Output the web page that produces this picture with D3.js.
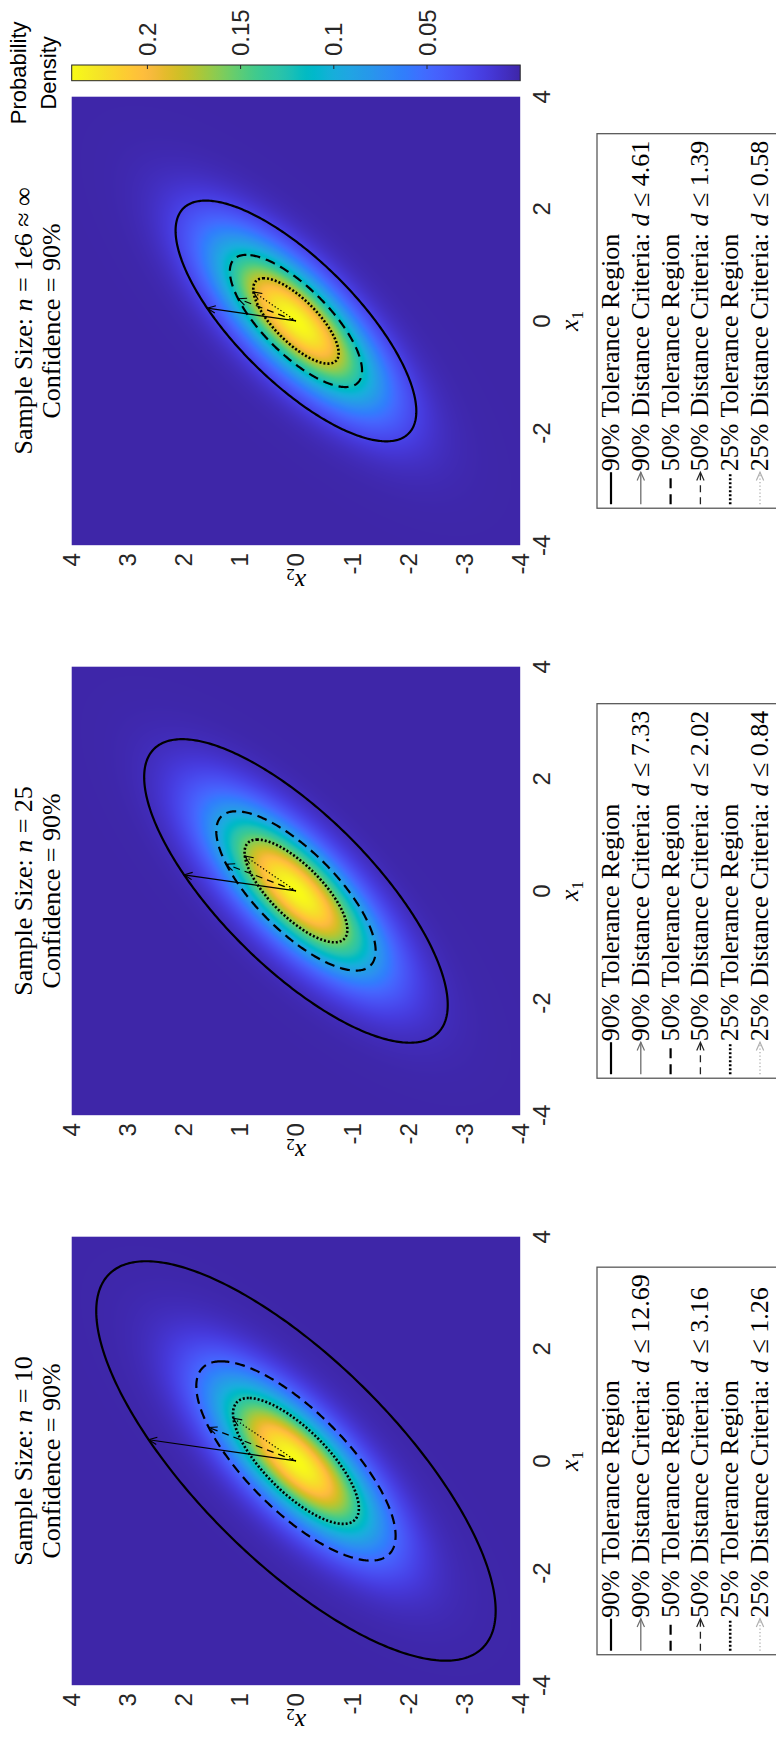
<!DOCTYPE html>
<html>
<head>
<meta charset="utf-8">
<script src="https://cdn.jsdelivr.net/npm/d3@7"></script>
<style>
  body { margin: 0; background: #fff; }
  svg { display: block; }
</style>
</head>
<body>
<div id="chart"></div>
<script>
// ---- data ----
const sampleSizes = ["10", "25", "1e6"];
const confidence = "90%";
const levels = ["90%", "50%", "25%"];
// distance criteria (squared Mahalanobis) per panel, per level
const distCriteria = [
  [12.69, 3.16, 1.26],
  [7.33, 2.02, 0.84],
  [4.61, 1.39, 0.58]
];
const meanVec = [0, 0];
const covMat = [[1, 0.75], [0.75, 1]];
// direction of each distance arrow (degrees from the x1 axis)
const arrowAngles = [81.8, 69.0, 55.7];
const x1Ticks = [-4, -2, 0, 2, 4];
const x2Ticks = [-4, -3, -2, -1, 0, 1, 2, 3, 4];
const cbarTicks = [0.05, 0.1, 0.15, 0.2];

// old MATLAB parula colormap
const parulaRGB = [
  [0.2422,0.1504,0.6603],[0.2504,0.1650,0.7076],[0.2578,0.1818,0.7511],[0.2647,0.1978,0.7952],
  [0.2706,0.2147,0.8364],[0.2751,0.2342,0.8710],[0.2783,0.2559,0.8991],[0.2803,0.2782,0.9221],
  [0.2813,0.3006,0.9414],[0.2810,0.3228,0.9579],[0.2795,0.3447,0.9717],[0.2760,0.3667,0.9829],
  [0.2699,0.3892,0.9906],[0.2602,0.4123,0.9952],[0.2440,0.4358,0.9988],[0.2206,0.4603,0.9973],
  [0.1963,0.4847,0.9892],[0.1834,0.5074,0.9798],[0.1786,0.5289,0.9682],[0.1764,0.5499,0.9520],
  [0.1687,0.5703,0.9359],[0.1540,0.5902,0.9218],[0.1460,0.6091,0.9079],[0.1380,0.6276,0.8973],
  [0.1248,0.6459,0.8883],[0.1113,0.6635,0.8763],[0.0952,0.6798,0.8598],[0.0689,0.6948,0.8394],
  [0.0297,0.7082,0.8163],[0.0036,0.7203,0.7917],[0.0067,0.7312,0.7660],[0.0433,0.7411,0.7394],
  [0.0964,0.7500,0.7120],[0.1408,0.7584,0.6842],[0.1717,0.7670,0.6554],[0.1938,0.7758,0.6251],
  [0.2161,0.7843,0.5923],[0.2470,0.7918,0.5567],[0.2906,0.7973,0.5188],[0.3406,0.8008,0.4789],
  [0.3909,0.8029,0.4354],[0.4456,0.8024,0.3909],[0.5044,0.7993,0.3480],[0.5616,0.7942,0.3045],
  [0.6174,0.7876,0.2612],[0.6720,0.7793,0.2227],[0.7242,0.7698,0.1910],[0.7738,0.7598,0.1646],
  [0.8203,0.7498,0.1535],[0.8634,0.7406,0.1596],[0.9035,0.7330,0.1774],[0.9393,0.7288,0.2100],
  [0.9728,0.7298,0.2394],[0.9956,0.7434,0.2371],[0.9970,0.7659,0.2199],[0.9952,0.7893,0.2028],
  [0.9892,0.8136,0.1885],[0.9786,0.8386,0.1766],[0.9676,0.8639,0.1643],[0.9610,0.8890,0.1537],
  [0.9597,0.9135,0.1423],[0.9628,0.9373,0.1265],[0.9691,0.9606,0.1064],[0.9769,0.9839,0.0805]
];

// ---- layout (figure drawn landscape, then turned a quarter) ----
const figW = 1739, figH = 776;
const S = 448.5, top0 = 71.7, left0 = 53.8, step = 570;
const serif = "'Liberation Serif', 'Times New Roman', serif";
const sans = "'Liberation Sans', Arial, Helvetica, sans-serif";

const svg = d3.select("#chart").append("svg")
  .attr("width", figH).attr("height", figW);
const root = svg.append("g")
  .attr("transform", "translate(0," + figW + ") rotate(-90)");

// gaussian helpers
const det = covMat[0][0] * covMat[1][1] - covMat[0][1] * covMat[1][0];
const inv = [[covMat[1][1] / det, -covMat[0][1] / det], [-covMat[1][0] / det, covMat[0][0] / det]];
function pdf(a, b) {
  const u = a - meanVec[0], v = b - meanVec[1];
  const q = inv[0][0] * u * u + 2 * inv[0][1] * u * v + inv[1][1] * v * v;
  return Math.exp(-0.5 * q) / (2 * Math.PI * Math.sqrt(det));
}
const pdfMax = pdf(meanVec[0], meanVec[1]);
const parula = d3.piecewise(d3.interpolateRgb,
  parulaRGB.map(c => d3.rgb(c[0] * 255, c[1] * 255, c[2] * 255)));
const color = d3.scaleSequential(parula).domain([0, pdfMax]);

// heatmap bitmap (same density in all panels)
const N = 449;
const gx = d3.scaleLinear().domain([0, N]).range([-4, 4]);
const gy = d3.scaleLinear().domain([0, N]).range([4, -4]);
const cv = document.createElement("canvas");
cv.width = N; cv.height = N;
const ctx = cv.getContext("2d");
const img = ctx.createImageData(N, N);
for (let j = 0; j < N; j++) {
  for (let i = 0; i < N; i++) {
    const c = d3.rgb(color(pdf(gx(i + 0.5), gy(j + 0.5))));
    const k = (j * N + i) * 4;
    img.data[k] = c.r; img.data[k + 1] = c.g; img.data[k + 2] = c.b; img.data[k + 3] = 255;
  }
}
ctx.putImageData(img, 0, 0);
const heatURL = cv.toDataURL();

// cholesky for ellipses
const L11 = Math.sqrt(covMat[0][0]);
const L21 = covMat[1][0] / L11;
const L22 = Math.sqrt(covMat[1][1] - L21 * L21);

const styles = [
  { dash: null, width: 2.2, arrowDash: null },
  { dash: "10,6", width: 2.2, arrowDash: "7,5" },
  { dash: "2,2", width: 2.6, arrowDash: "1.3,2.2" }
];

function mathText(sel, parts) {
  parts.forEach(p => {
    sel.append("tspan").text(p.t).attr("font-style", p.i ? "italic" : null);
  });
}

function arrowHead(g, x0, y0, x1, y1, stroke, sw) {
  const a = Math.atan2(y1 - y0, x1 - x0), len = 9, spread = 0.42;
  const p = d3.path();
  p.moveTo(x1 - len * Math.cos(a - spread), y1 - len * Math.sin(a - spread));
  p.lineTo(x1, y1);
  p.lineTo(x1 - len * Math.cos(a + spread), y1 - len * Math.sin(a + spread));
  g.append("path").attr("d", p.toString()).attr("fill", "none")
    .attr("stroke", stroke).attr("stroke-width", sw);
}

sampleSizes.forEach((n, pi) => {
  const left = left0 + pi * step;
  const x = d3.scaleLinear().domain([-4, 4]).range([left, left + S]);
  const y = d3.scaleLinear().domain([-4, 4]).range([top0 + S, top0]);
  const g = root.append("g");

  g.append("image").attr("href", heatURL)
    .attr("x", left).attr("y", top0).attr("width", S).attr("height", S)
    .attr("preserveAspectRatio", "none");

  // tolerance ellipses
  const line = d3.line().x(d => x(d[0])).y(d => y(d[1])).curve(d3.curveLinearClosed);
  distCriteria[pi].forEach((d, li) => {
    const r = Math.sqrt(d);
    const pts = d3.range(0, 360, 1).map(t => {
      const c = Math.cos(t * Math.PI / 180), s = Math.sin(t * Math.PI / 180);
      return [meanVec[0] + r * L11 * c, meanVec[1] + r * (L21 * c + L22 * s)];
    });
    g.append("path").attr("d", line(pts)).attr("fill", "none")
      .attr("stroke", "#000").attr("stroke-width", styles[li].width)
      .attr("stroke-dasharray", styles[li].dash);
  });

  // distance arrows
  distCriteria[pi].forEach((d, li) => {
    const a = arrowAngles[li] * Math.PI / 180;
    const u = [Math.cos(a), Math.sin(a)];
    const q = inv[0][0] * u[0] * u[0] + 2 * inv[0][1] * u[0] * u[1] + inv[1][1] * u[1] * u[1];
    const r = Math.sqrt(d / q);
    const sx = x(meanVec[0]), sy = y(meanVec[1]);
    const ex = x(meanVec[0] + r * u[0]), ey = y(meanVec[1] + r * u[1]);
    g.append("line").attr("x1", sx).attr("y1", sy).attr("x2", ex).attr("y2", ey)
      .attr("stroke", "#000").attr("stroke-width", 1.2)
      .attr("stroke-dasharray", styles[li].arrowDash);
    arrowHead(g, sx, sy, ex, ey, "#000", 1.1);
  });

  // x1 tick labels (bottom)
  g.selectAll(".x1t").data(x1Ticks).enter().append("text")
    .attr("x", d => x(d)).attr("y", top0 + S + 30)
    .attr("text-anchor", "middle").attr("font-family", sans).attr("font-size", 24)
    .attr("fill", "#262626").text(d => String(d));
  // x2 tick labels (left)
  g.selectAll(".x2t").data(x2Ticks).enter().append("text")
    .attr("x", left - 8).attr("y", d => y(d) + 8.5)
    .attr("text-anchor", "end").attr("font-family", sans).attr("font-size", 24)
    .attr("fill", "#262626").text(d => String(d));

  // axis labels
  const xl = g.append("text").attr("x", left + S / 2).attr("y", top0 + S + 58)
    .attr("text-anchor", "middle").attr("font-family", serif).attr("font-size", 26);
  xl.append("tspan").attr("font-style", "italic").text("x");
  xl.append("tspan").attr("font-size", 17).attr("dy", 5).text("1");
  const yl = g.append("text")
    .attr("transform", "translate(" + (left - 29) + "," + (top0 + S / 2) + ") rotate(-90)")
    .attr("text-anchor", "middle").attr("font-family", serif).attr("font-size", 25);
  yl.append("tspan").attr("font-style", "italic").text("x");
  yl.append("tspan").attr("font-size", 17).attr("dy", 5).text("2");

  // title
  const t1 = g.append("text").attr("x", left + S / 2).attr("y", 32)
    .attr("text-anchor", "middle").attr("font-family", serif).attr("font-size", 26);
  if (n === "1e6") {
    mathText(t1, [{ t: "Sample Size: " }, { t: "n", i: true }, { t: " = 1" }, { t: "e", i: true }, { t: "6 \u2248 \u221e" }]);
  } else {
    mathText(t1, [{ t: "Sample Size: " }, { t: "n", i: true }, { t: " = " + n }]);
  }
  g.append("text").attr("x", left + S / 2).attr("y", 60)
    .attr("text-anchor", "middle").attr("font-family", serif).attr("font-size", 26)
    .text("Confidence = " + confidence);

  // legend
  const lg = g.append("g");
  const box = lg.append("rect").attr("fill", "#fff").attr("stroke", "#5a5a5a").attr("stroke-width", 1.3);
  const rows = [];
  levels.forEach((lv, li) => {
    rows.push({ kind: "region", li: li, parts: [{ t: lv + " Tolerance Region" }] });
    rows.push({ kind: "arrow", li: li, parts: [{ t: lv + " Distance Criteria: " }, { t: "d", i: true }, { t: " \u2264 " + distCriteria[pi][li].toFixed(2) }] });
  });
  const sampleLen = 32, rowTop = 619, rowStep = 29.8, boxTop = 597;
  let maxW = 0;
  const texts = rows.map((r, k) => {
    const t = lg.append("text").attr("y", rowTop + k * rowStep)
      .attr("font-family", serif).attr("font-size", 26).attr("fill", "#000");
    mathText(t, r.parts);
    maxW = Math.max(maxW, t.node().getComputedTextLength());
    return t;
  });
  const boxW = sampleLen + 6 + maxW + 6;
  const bx = left + S / 2 - boxW / 2;
  box.attr("x", bx).attr("y", boxTop).attr("width", boxW).attr("height", 200);
  const arrowCols = ["#6e6e6e", "#222", "#b0b0b0"];
  rows.forEach((r, k) => {
    const cy = rowTop + k * rowStep - 8;
    const x0 = bx + 4, x1 = bx + 4 + sampleLen;
    texts[k].attr("x", x1 + 1);
    if (r.kind === "region") {
      lg.append("line").attr("x1", x0).attr("x2", x1).attr("y1", cy).attr("y2", cy)
        .attr("stroke", "#000").attr("stroke-width", styles[r.li].width)
        .attr("stroke-dasharray", styles[r.li].dash);
    } else {
      lg.append("line").attr("x1", x0).attr("x2", x1).attr("y1", cy).attr("y2", cy)
        .attr("stroke", arrowCols[r.li]).attr("stroke-width", 1.3)
        .attr("stroke-dasharray", styles[r.li].arrowDash);
      arrowHead(lg, x0, cy, x1, cy, arrowCols[r.li], 1.2);
    }
  });
});

// colorbar
const cbX = 1658.3, cbW = 15.7, cbTop = top0, cbBot = top0 + S;
const defs = svg.append("defs");
const grad = defs.append("linearGradient").attr("id", "cbgrad")
  .attr("x1", 0).attr("y1", 1).attr("x2", 0).attr("y2", 0);
parulaRGB.forEach((c, k) => {
  grad.append("stop").attr("offset", k / (parulaRGB.length - 1))
    .attr("stop-color", d3.rgb(c[0] * 255, c[1] * 255, c[2] * 255).formatHex());
});
const cScale = d3.scaleLinear().domain([0, pdfMax]).range([cbBot, cbTop]);
root.append("rect").attr("x", cbX).attr("y", cbTop).attr("width", cbW).attr("height", cbBot - cbTop)
  .attr("fill", "url(#cbgrad)").attr("stroke", "#262626").attr("stroke-width", 1);
root.selectAll(".cbt").data(cbarTicks).enter().append("line")
  .attr("x1", cbX + cbW - 4).attr("x2", cbX + cbW).attr("y1", d => cScale(d)).attr("y2", d => cScale(d))
  .attr("stroke", "#262626").attr("stroke-width", 1);
root.selectAll(".cbl").data(cbarTicks).enter().append("text")
  .attr("x", cbX + cbW + 9).attr("y", d => cScale(d) + 8.5)
  .attr("font-family", sans).attr("font-size", 24).attr("fill", "#262626")
  .text(d => String(d));
const cbLab = root.append("text").attr("font-family", sans).attr("font-size", 22)
  .attr("text-anchor", "middle").attr("fill", "#000");
cbLab.append("tspan").attr("x", cbX + cbW / 2).attr("y", 26).text("Probability");
cbLab.append("tspan").attr("x", cbX + cbW / 2).attr("y", 56).text("Density");
</script>
</body>
</html>
